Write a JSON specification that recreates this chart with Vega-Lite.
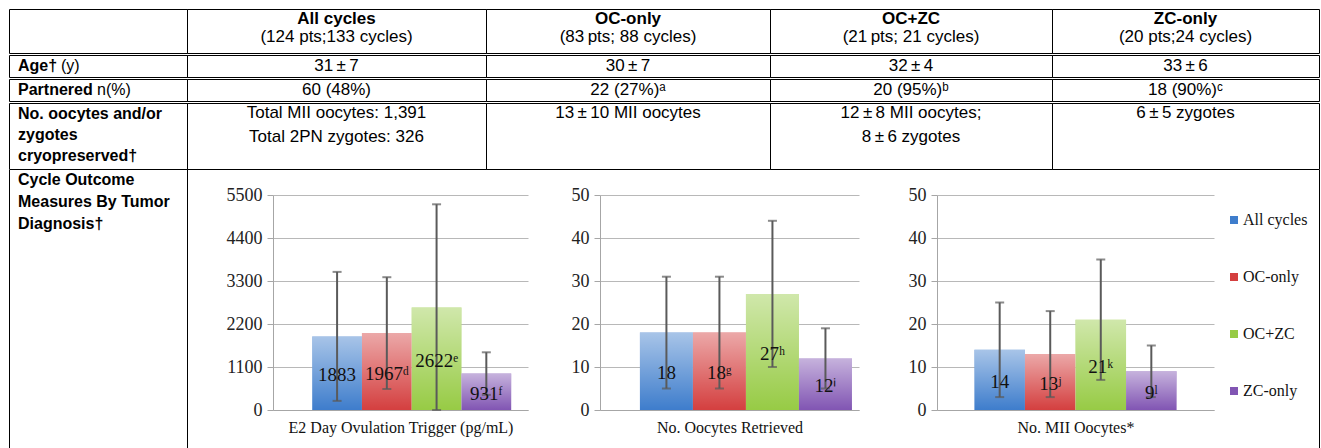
{
  "$schema": "https://vega.github.io/schema/vega-lite/v6.json",
  "usermeta": {"embedOptions": {"actions": false}},
  "padding": {"left": 8, "top": 8, "right": 0, "bottom": 0},
  "background": "white",
  "config": {
    "view": {"stroke": null},
    "font": "Liberation Sans",
    "text": {"font": "Liberation Sans", "fontSize": 17, "color": "#000"},
    "axis": {"labelFont": "Liberation Serif", "labelFontSize": 18, "labelColor": "#222", "titleFont": "Liberation Serif", "titleFontSize": 16, "titleFontWeight": "normal", "titleColor": "#111", "domainColor": "#a6a6a6", "tickColor": "#a6a6a6", "gridColor": "#b8b8b8"}
  },
  "datasets": {
    "e2": [
      {"g": "All cycles", "v": 1883, "lo": 233, "hi": 3533, "lab": "1883"},
      {"g": "OC-only", "v": 1967, "lo": 537, "hi": 3397, "lab": "1967ᵈ"},
      {"g": "OC+ZC", "v": 2622, "lo": 0, "hi": 5262, "lab": "2622ᵉ"},
      {"g": "ZC-only", "v": 931, "lo": 386, "hi": 1476, "lab": "931ᶠ"}
    ],
    "ret": [
      {"g": "All cycles", "v": 18, "lo": 5, "hi": 31, "lab": "18"},
      {"g": "OC-only", "v": 18, "lo": 5, "hi": 31, "lab": "18ᵍ"},
      {"g": "OC+ZC", "v": 27, "lo": 10, "hi": 44, "lab": "27ʰ"},
      {"g": "ZC-only", "v": 12, "lo": 5, "hi": 19, "lab": "12ⁱ"}
    ],
    "mii": [
      {"g": "All cycles", "v": 14, "lo": 3, "hi": 25, "lab": "14"},
      {"g": "OC-only", "v": 13, "lo": 3, "hi": 23, "lab": "13ʲ"},
      {"g": "OC+ZC", "v": 21, "lo": 7, "hi": 35, "lab": "21ᵏ"},
      {"g": "ZC-only", "v": 9, "lo": 3, "hi": 15, "lab": "9ˡ"}
    ]
  },
  "spacing": 0,
  "resolve": {"scale": {"color": "independent"}, "legend": {"color": "independent"}},
  "vconcat": [
    {"hconcat": [
      {"width": 178, "height": 44, "view": {"stroke": "#000"}, "data": {"values": []}, "mark": "text"},
      {"width": 299, "height": 44, "view": {"stroke": "#000"}, "data": {"values": [{"h": "All cycles", "s": "(124 pts;133 cycles)"}]},
       "layer": [
         {"mark": {"type": "text", "fontWeight": "bold", "dy": -12}, "encoding": {"text": {"field": "h", "type": "nominal"}}},
         {"mark": {"type": "text", "dy": 6}, "encoding": {"text": {"field": "s", "type": "nominal"}}}
       ]},
      {"width": 284, "height": 44, "view": {"stroke": "#000"}, "data": {"values": [{"h": "OC-only", "s": "(83\u2009pts; 88 cycles)"}]},
       "layer": [
         {"mark": {"type": "text", "fontWeight": "bold", "dy": -12}, "encoding": {"text": {"field": "h", "type": "nominal"}}},
         {"mark": {"type": "text", "dy": 6}, "encoding": {"text": {"field": "s", "type": "nominal"}}}
       ]},
      {"width": 282, "height": 44, "view": {"stroke": "#000"}, "data": {"values": [{"h": "OC+ZC", "s": "(21\u2009pts; 21 cycles)"}]},
       "layer": [
         {"mark": {"type": "text", "fontWeight": "bold", "dy": -12}, "encoding": {"text": {"field": "h", "type": "nominal"}}},
         {"mark": {"type": "text", "dy": 6}, "encoding": {"text": {"field": "s", "type": "nominal"}}}
       ]},
      {"width": 267, "height": 44, "view": {"stroke": "#000"}, "data": {"values": [{"h": "ZC-only", "s": "(20 pts;24 cycles)"}]},
       "layer": [
         {"mark": {"type": "text", "fontWeight": "bold", "dy": -12}, "encoding": {"text": {"field": "h", "type": "nominal"}}},
         {"mark": {"type": "text", "dy": 6}, "encoding": {"text": {"field": "s", "type": "nominal"}}}
       ]}
    ], "spacing": 0, "bounds": "flush"},
    {"hconcat": [
      {"width": 178, "height": 22, "view": {"stroke": "#000"}, "data": {"values": [{"b": "Age†", "n": "(y)"}]},
       "layer": [
         {"mark": {"type": "text", "fontWeight": "bold", "fontSize": 16, "align": "left", "dx": -80}, "encoding": {"text": {"field": "b", "type": "nominal"}}},
         {"mark": {"type": "text", "fontSize": 16, "align": "left", "dx": -37}, "encoding": {"text": {"field": "n", "type": "nominal"}}}
       ]},
      {"width": 299, "height": 22, "view": {"stroke": "#000"}, "data": {"values": [{"t": "31\u2009±\u20097"}]}, "mark": {"type": "text"}, "encoding": {"text": {"field": "t", "type": "nominal"}}},
      {"width": 284, "height": 22, "view": {"stroke": "#000"}, "data": {"values": [{"t": "30\u2009±\u20097"}]}, "mark": {"type": "text"}, "encoding": {"text": {"field": "t", "type": "nominal"}}},
      {"width": 282, "height": 22, "view": {"stroke": "#000"}, "data": {"values": [{"t": "32\u2009±\u20094"}]}, "mark": {"type": "text"}, "encoding": {"text": {"field": "t", "type": "nominal"}}},
      {"width": 267, "height": 22, "view": {"stroke": "#000"}, "data": {"values": [{"t": "33\u2009±\u20096"}]}, "mark": {"type": "text"}, "encoding": {"text": {"field": "t", "type": "nominal"}}}
    ], "spacing": 0, "bounds": "flush"},
    {"hconcat": [
      {"width": 178, "height": 22, "view": {"stroke": "#000"}, "data": {"values": [{"b": "Partnered", "n": "n(%)"}]},
       "layer": [
         {"mark": {"type": "text", "fontWeight": "bold", "fontSize": 16, "align": "left", "dx": -80}, "encoding": {"text": {"field": "b", "type": "nominal"}}},
         {"mark": {"type": "text", "fontSize": 16, "align": "left", "dx": -1}, "encoding": {"text": {"field": "n", "type": "nominal"}}}
       ]},
      {"width": 299, "height": 22, "view": {"stroke": "#000"}, "data": {"values": [{"t": "60 (48%)"}]}, "mark": {"type": "text"}, "encoding": {"text": {"field": "t", "type": "nominal"}}},
      {"width": 284, "height": 22, "view": {"stroke": "#000"}, "data": {"values": [{"t": "22 (27%)ᵃ"}]}, "mark": {"type": "text"}, "encoding": {"text": {"field": "t", "type": "nominal"}}},
      {"width": 282, "height": 22, "view": {"stroke": "#000"}, "data": {"values": [{"t": "20 (95%)ᵇ"}]}, "mark": {"type": "text"}, "encoding": {"text": {"field": "t", "type": "nominal"}}},
      {"width": 267, "height": 22, "view": {"stroke": "#000"}, "data": {"values": [{"t": "18 (90%)ᶜ"}]}, "mark": {"type": "text"}, "encoding": {"text": {"field": "t", "type": "nominal"}}}
    ], "spacing": 0, "bounds": "flush"},
    {"hconcat": [
      {"width": 178, "height": 66, "view": {"stroke": "#000"}, "data": {"values": [{"t": ["No. oocytes and/or", "zygotes", "cryopreserved†"]}]},
       "mark": {"type": "text", "fontWeight": "bold", "fontSize": 16, "align": "left", "baseline": "top", "dx": -80, "dy": -30, "lineHeight": 21}, "encoding": {"text": {"field": "t", "type": "nominal"}}},
      {"width": 299, "height": 66, "view": {"stroke": "#000"}, "data": {"values": [{"t": ["Total MII oocytes: 1,391", "Total 2PN zygotes: 326"]}]},
       "mark": {"type": "text", "baseline": "top", "dy": -31, "lineHeight": 24}, "encoding": {"text": {"field": "t", "type": "nominal"}}},
      {"width": 284, "height": 66, "view": {"stroke": "#000"}, "data": {"values": [{"t": "13\u2009±\u200910 MII oocytes"}]},
       "mark": {"type": "text", "dy": -23}, "encoding": {"text": {"field": "t", "type": "nominal"}}},
      {"width": 282, "height": 66, "view": {"stroke": "#000"}, "data": {"values": [{"t": ["12\u2009±\u20098 MII oocytes;", "8\u2009±\u20096 zygotes"]}]},
       "mark": {"type": "text", "baseline": "top", "dy": -31, "lineHeight": 24}, "encoding": {"text": {"field": "t", "type": "nominal"}}},
      {"width": 267, "height": 66, "view": {"stroke": "#000"}, "data": {"values": [{"t": "6\u2009±\u20095 zygotes"}]},
       "mark": {"type": "text", "dy": -23}, "encoding": {"text": {"field": "t", "type": "nominal"}}}
    ], "spacing": 0, "bounds": "flush"},
    {"hconcat": [
      {"width": 1, "height": 280, "view": {"fill": "#000", "stroke": null}, "data": {"values": []}, "mark": "text"},
      {"width": 177, "height": 280, "data": {"values": [{"t": ["Cycle Outcome", "Measures By Tumor", "Diagnosis†"]}]},
       "mark": {"type": "text", "fontWeight": "bold", "fontSize": 16, "align": "left", "baseline": "top", "dx": -80.5, "dy": -138, "lineHeight": 22}, "encoding": {"text": {"field": "t", "type": "nominal"}}},
      {"width": 1, "height": 280, "view": {"fill": "#000", "stroke": null}, "data": {"values": []}, "mark": "text"},
      {"width": 85, "height": 1, "data": {"values": []}, "mark": "text"},
      {"width": 255, "height": 240, "data": {"name": "e2"},
       "layer": [
         {"layer": [
           {"mark": {"type": "bar"}, "encoding": {
             "x": {"field": "g", "type": "nominal", "sort": null, "scale": {"paddingInner": 0, "paddingOuter": 0.563, "align": 0.7}, "axis": {"labels": false, "ticks": false, "title": "E2 Day Ovulation Trigger (pg/mL)", "titlePadding": 9}},
             "y": {"field": "v", "type": "quantitative", "scale": {"domain": [0, 5500], "nice": false, "range": [240, 25]}, "axis": {"values": [0, 1100, 2200, 3300, 4400, 5500], "format": "d", "title": null, "grid": true, "tickSize": 6, "labelPadding": 5}},
             "color": {"field": "g", "type": "nominal", "sort": null, "scale": {"domain": ["All cycles", "OC-only", "OC+ZC", "ZC-only"], "range": ["#3E7DCC", "#D43F3F", "#97CB45", "#8155B3"]}, "legend": null}}},
           {"mark": {"type": "bar", "fill": {"gradient": "linear", "x1": 0, "y1": 0, "x2": 0, "y2": 1, "stops": [{"offset": 0, "color": "rgba(255,255,255,0.55)"}, {"offset": 1, "color": "rgba(255,255,255,0)"}]}},
            "encoding": {"x": {"field": "g", "type": "nominal", "sort": null}, "y": {"field": "v", "type": "quantitative"}}},
           {"mark": {"type": "rule", "color": "#5a5a5a", "strokeWidth": 2}, "encoding": {"x": {"field": "g", "type": "nominal", "sort": null}, "y": {"field": "lo", "type": "quantitative"}, "y2": {"field": "hi"}}},
           {"mark": {"type": "tick", "color": "#5a5a5a", "thickness": 2, "size": 9}, "encoding": {"x": {"field": "g", "type": "nominal", "sort": null}, "y": {"field": "hi", "type": "quantitative"}}},
           {"mark": {"type": "tick", "color": "#5a5a5a", "thickness": 2, "size": 9}, "encoding": {"x": {"field": "g", "type": "nominal", "sort": null}, "y": {"field": "lo", "type": "quantitative"}}}
         ]},
         {"mark": {"type": "text", "font": "Liberation Serif", "fontSize": 19, "baseline": "middle", "dy": 2, "color": "#111"},
          "encoding": {"x": {"field": "g", "type": "nominal", "sort": null}, "y": {"field": "v", "type": "quantitative", "scale": {"domain": [0, 11000], "nice": false, "range": [240, 25]}, "axis": null}, "text": {"field": "lab", "type": "nominal"}}}
       ],
       "resolve": {"scale": {"y": "independent"}}},
      {"width": 72, "height": 1, "data": {"values": []}, "mark": "text"},
      {"width": 259, "height": 240, "data": {"name": "ret"},
       "layer": [
         {"layer": [
           {"mark": {"type": "bar"}, "encoding": {
             "x": {"field": "g", "type": "nominal", "sort": null, "scale": {"paddingInner": 0, "paddingOuter": 0.443, "align": 0.85}, "axis": {"labels": false, "ticks": false, "title": "No. Oocytes Retrieved", "titlePadding": 9}},
             "y": {"field": "v", "type": "quantitative", "scale": {"domain": [0, 50], "nice": false, "range": [240, 25]}, "axis": {"values": [0, 10, 20, 30, 40, 50], "title": null, "grid": true, "tickSize": 6, "labelPadding": 5}},
             "color": {"field": "g", "type": "nominal", "sort": null, "scale": {"domain": ["All cycles", "OC-only", "OC+ZC", "ZC-only"], "range": ["#3E7DCC", "#D43F3F", "#97CB45", "#8155B3"]}, "legend": null}}},
           {"mark": {"type": "bar", "fill": {"gradient": "linear", "x1": 0, "y1": 0, "x2": 0, "y2": 1, "stops": [{"offset": 0, "color": "rgba(255,255,255,0.55)"}, {"offset": 1, "color": "rgba(255,255,255,0)"}]}},
            "encoding": {"x": {"field": "g", "type": "nominal", "sort": null}, "y": {"field": "v", "type": "quantitative"}}},
           {"mark": {"type": "rule", "color": "#5a5a5a", "strokeWidth": 2}, "encoding": {"x": {"field": "g", "type": "nominal", "sort": null}, "y": {"field": "lo", "type": "quantitative"}, "y2": {"field": "hi"}}},
           {"mark": {"type": "tick", "color": "#5a5a5a", "thickness": 2, "size": 9}, "encoding": {"x": {"field": "g", "type": "nominal", "sort": null}, "y": {"field": "hi", "type": "quantitative"}}},
           {"mark": {"type": "tick", "color": "#5a5a5a", "thickness": 2, "size": 9}, "encoding": {"x": {"field": "g", "type": "nominal", "sort": null}, "y": {"field": "lo", "type": "quantitative"}}}
         ]},
         {"mark": {"type": "text", "font": "Liberation Serif", "fontSize": 19, "baseline": "middle", "dy": 2, "color": "#111"},
          "encoding": {"x": {"field": "g", "type": "nominal", "sort": null}, "y": {"field": "v", "type": "quantitative", "scale": {"domain": [0, 100], "nice": false, "range": [240, 25]}, "axis": null}, "text": {"field": "lab", "type": "nominal"}}}
       ],
       "resolve": {"scale": {"y": "independent"}}},
      {"width": 78, "height": 1, "data": {"values": []}, "mark": "text"},
      {"width": 277, "height": 240, "data": {"name": "mii"},
       "layer": [
         {"layer": [
           {"mark": {"type": "bar"}, "encoding": {
             "x": {"field": "g", "type": "nominal", "sort": null, "scale": {"paddingInner": 0, "paddingOuter": 0.74, "align": 0.5}, "axis": {"labels": false, "ticks": false, "title": "No. MII Oocytes*", "titlePadding": 9}},
             "y": {"field": "v", "type": "quantitative", "scale": {"domain": [0, 50], "nice": false, "range": [240, 25]}, "axis": {"values": [0, 10, 20, 30, 40, 50], "title": null, "grid": true, "tickSize": 6, "labelPadding": 5}},
             "color": {"field": "g", "type": "nominal", "sort": null, "scale": {"domain": ["All cycles", "OC-only", "OC+ZC", "ZC-only"], "range": ["#3E7DCC", "#D43F3F", "#97CB45", "#8155B3"]},
               "legend": {"title": null, "orient": "none", "legendX": 289, "legendY": 42, "padding": 0, "symbolType": "square", "symbolSize": 64, "symbolStrokeWidth": 0, "labelFont": "Liberation Serif", "labelFontSize": 16, "labelColor": "#111", "rowPadding": 41, "labelOffset": 1}}}},
           {"mark": {"type": "bar", "fill": {"gradient": "linear", "x1": 0, "y1": 0, "x2": 0, "y2": 1, "stops": [{"offset": 0, "color": "rgba(255,255,255,0.55)"}, {"offset": 1, "color": "rgba(255,255,255,0)"}]}},
            "encoding": {"x": {"field": "g", "type": "nominal", "sort": null}, "y": {"field": "v", "type": "quantitative"}}},
           {"mark": {"type": "rule", "color": "#5a5a5a", "strokeWidth": 2}, "encoding": {"x": {"field": "g", "type": "nominal", "sort": null}, "y": {"field": "lo", "type": "quantitative"}, "y2": {"field": "hi"}}},
           {"mark": {"type": "tick", "color": "#5a5a5a", "thickness": 2, "size": 9}, "encoding": {"x": {"field": "g", "type": "nominal", "sort": null}, "y": {"field": "hi", "type": "quantitative"}}},
           {"mark": {"type": "tick", "color": "#5a5a5a", "thickness": 2, "size": 9}, "encoding": {"x": {"field": "g", "type": "nominal", "sort": null}, "y": {"field": "lo", "type": "quantitative"}}}
         ]},
         {"mark": {"type": "text", "font": "Liberation Serif", "fontSize": 19, "baseline": "middle", "dy": 2, "color": "#111"},
          "encoding": {"x": {"field": "g", "type": "nominal", "sort": null}, "y": {"field": "v", "type": "quantitative", "scale": {"domain": [0, 100], "nice": false, "range": [240, 25]}, "axis": null}, "text": {"field": "lab", "type": "nominal"}}}
       ],
       "resolve": {"scale": {"y": "independent"}}},
      {"width": 105, "height": 1, "data": {"values": []}, "mark": "text"},
      {"width": 1, "height": 280, "view": {"fill": "#000", "stroke": null}, "data": {"values": []}, "mark": "text"}
    ], "spacing": 0, "bounds": "flush", "resolve": {"scale": {"color": "independent"}, "legend": {"color": "independent"}}}
  ]
}
